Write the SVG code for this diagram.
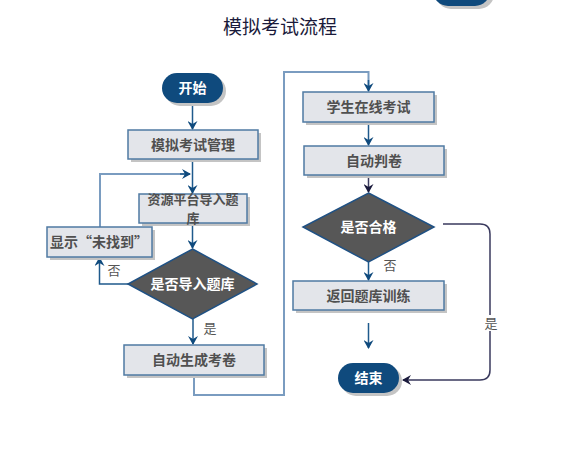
<svg xmlns="http://www.w3.org/2000/svg" width="569" height="452" viewBox="0 0 569 452">
<style>
.t{font-family:"Noto Sans CJK SC","Liberation Sans",sans-serif;}
.box{fill:#e3e5ea;stroke:#4f7aa3;stroke-width:1.5;}
.sh{fill:#c4c4c4;}
.pill{fill:#0f4a7d;}
.dia{fill:#575757;stroke:#1f5184;stroke-width:1.5;}
.bt{font-size:14px;font-weight:bold;fill:#505050;text-anchor:middle;}
.wt{font-size:14px;font-weight:bold;fill:#ffffff;text-anchor:middle;}
.lbl{font-size:13px;fill:#555;text-anchor:middle;}
.ln{fill:none;stroke:#1f5a8c;stroke-width:1.5;}
.lt{fill:none;stroke:#7a9cc0;stroke-width:2;}
.dk{fill:none;stroke:#3a3a5e;stroke-width:1.5;}
</style>
<defs>
<marker id="a" markerWidth="10" markerHeight="10" refX="8" refY="5" orient="auto" markerUnits="userSpaceOnUse">
<path d="M0,0 L9,5 L0,10 L3,5 Z" fill="#0f4a7d"/>
</marker>
<marker id="ak" markerWidth="10" markerHeight="10" refX="8" refY="5" orient="auto" markerUnits="userSpaceOnUse">
<path d="M0,0 L9,5 L0,10 L3,5 Z" fill="#1a1a3c"/>
</marker>
</defs>
<rect width="569" height="452" fill="#ffffff"/>
<text class="t" x="280" y="34" font-size="19" fill="#1a1a3a" text-anchor="middle">模拟考试流程</text>

<g id="topPill">
<rect class="sh" x="436" y="-24" width="58" height="33" rx="15"/>
<rect class="pill" x="433" y="-27" width="57" height="33" rx="15"/>
</g>

<g id="connectors">
<line class="ln" x1="192.5" y1="103" x2="192.5" y2="129" marker-end="url(#a)"/>
<line class="ln" x1="192.5" y1="159" x2="192.5" y2="193" marker-end="url(#a)"/>
<polyline class="lt" points="100,227 100,174 188,174"/>
<line class="ln" x1="180" y1="174" x2="190" y2="174" marker-end="url(#a)"/>
<line class="ln" x1="192.5" y1="223" x2="192.5" y2="248" marker-end="url(#a)"/>
<polyline class="ln" points="128,284 99.5,284 99.5,258" marker-end="url(#a)"/>
<line class="ln" x1="193" y1="319" x2="193" y2="344" marker-end="url(#a)"/>
<polyline class="lt" points="194,375 194,395 284,395 284,72 368.5,72 368.5,88"/>
<line class="ln" x1="368.5" y1="80" x2="368.5" y2="91" marker-end="url(#a)"/>
<line class="ln" x1="368.5" y1="122" x2="368.5" y2="145" marker-end="url(#a)"/>
<line class="dk" x1="368.5" y1="175" x2="368.5" y2="192" marker-end="url(#ak)"/>
<line class="ln" x1="368.5" y1="262" x2="368.5" y2="280" marker-end="url(#a)"/>
<line class="ln" x1="368.5" y1="323" x2="368.5" y2="348" marker-end="url(#a)"/>
<path class="dk" d="M443,224 L480,224 Q490,224 490,234 L490,370 Q490,380 480,380 L403,380" marker-end="url(#ak)"/>
<text class="t lbl" x="114" y="275">否</text>
<text class="t lbl" x="210" y="333">是</text>
<text class="t lbl" x="390" y="270">否</text>
<rect x="484" y="315" width="14" height="16" fill="#ffffff"/>
<text class="t lbl" x="491" y="328" fill="#222">是</text>
</g>

<g id="start">
<rect class="sh" x="165" y="76" width="61" height="30" rx="15"/>
<rect class="pill" x="162" y="73" width="61" height="30" rx="15"/>
<text class="t wt" x="192.5" y="93">开始</text>
</g>

<g id="mgmt">
<rect class="sh" x="131" y="133" width="130" height="29"/>
<rect class="box" x="128" y="130" width="130" height="29"/>
<text class="t bt" x="193" y="150">模拟考试管理</text>
</g>

<g id="import">
<rect class="sh" x="142" y="197" width="108" height="29"/>
<rect class="box" x="139" y="194" width="108" height="29"/>
<text class="t bt" style="font-size:13px" x="193" y="204"><tspan x="193" y="204">资源平台导入题</tspan><tspan x="193" y="223">库</tspan></text>
</g>

<g id="notfound">
<rect class="sh" x="50" y="230" width="105" height="30"/>
<rect class="box" x="47" y="227" width="105" height="30"/>
<text class="t bt" x="99" y="247">显示“未找到”</text>
</g>

<g id="decision1">
<polygon class="dia" points="192.5,249 257,284 192.5,319 128,284"/>
<text class="t wt" x="192.5" y="289">是否导入题库</text>
</g>

<g id="generate">
<rect class="sh" x="127" y="348" width="140" height="30"/>
<rect class="box" x="124" y="345" width="140" height="30"/>
<text class="t bt" x="194" y="365">自动生成考卷</text>
</g>

<g id="exam">
<rect class="sh" x="306" y="95" width="131" height="30"/>
<rect class="box" x="303" y="92" width="131" height="30"/>
<text class="t bt" x="368.5" y="112">学生在线考试</text>
</g>

<g id="grade">
<rect class="sh" x="307" y="149" width="140" height="29"/>
<rect class="box" x="304" y="146" width="140" height="29"/>
<text class="t bt" x="374" y="166">自动判卷</text>
</g>

<g id="decision2">
<polygon class="dia" points="368.5,193 434,227 368.5,262 303,227"/>
<text class="t wt" x="368.5" y="232">是否合格</text>
</g>

<g id="back">
<rect class="sh" x="296" y="284" width="151" height="29"/>
<rect class="box" x="293" y="281" width="151" height="29"/>
<text class="t bt" x="368.5" y="301">返回题库训练</text>
</g>

<g id="end">
<rect class="sh" x="341" y="366" width="61" height="30" rx="15"/>
<rect class="pill" x="338" y="363" width="61" height="30" rx="15"/>
<text class="t wt" x="368.5" y="383">结束</text>
</g>
</svg>
